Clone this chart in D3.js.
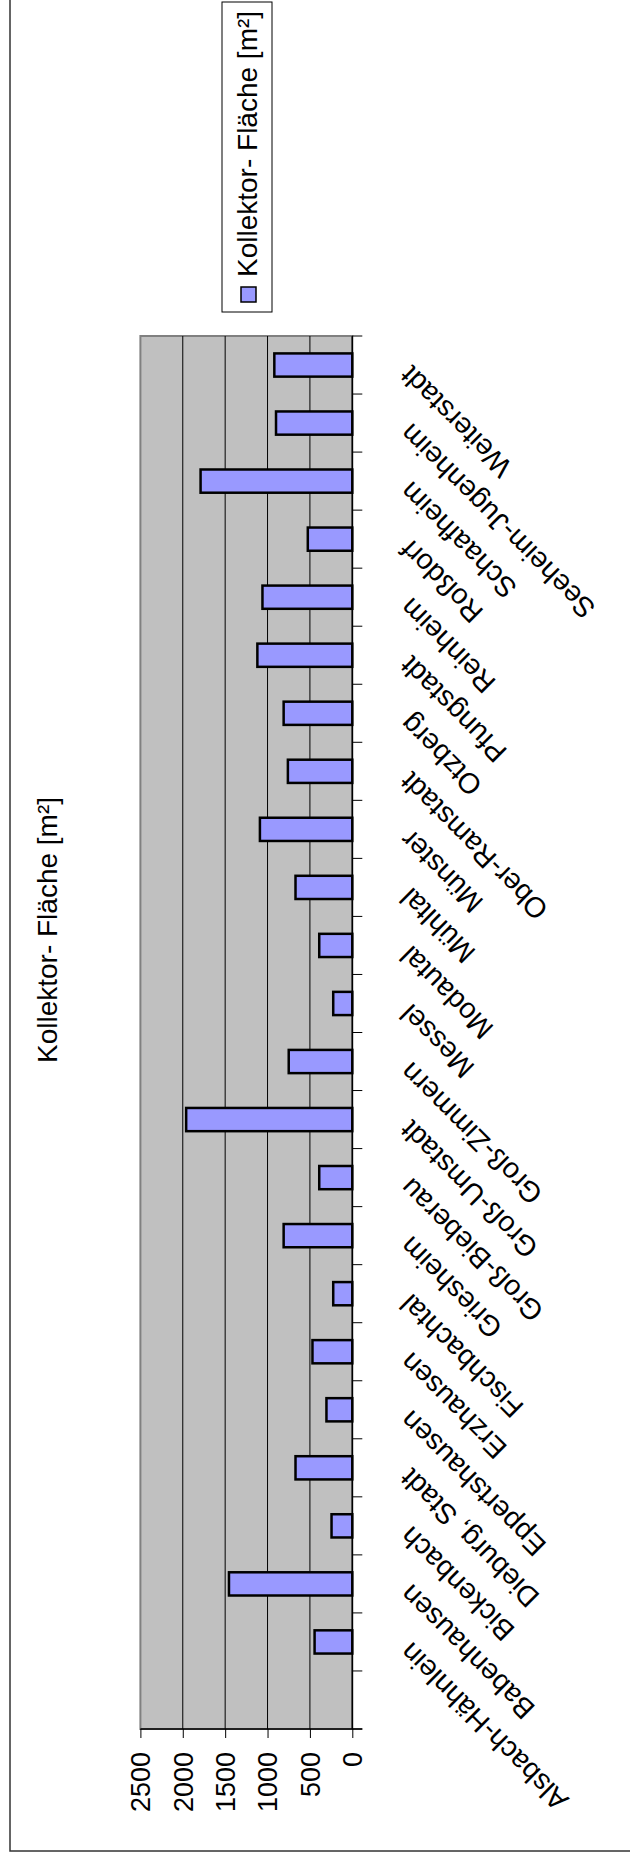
<!DOCTYPE html>
<html>
<head>
<meta charset="utf-8">
<script src="https://cdn.jsdelivr.net/npm/d3@7"></script>
<style>
  html, body { margin: 0; padding: 0; background: #ffffff; }
  svg { display: block; }
  text { font-family: "Liberation Sans", Arial, sans-serif; fill: #000; }
</style>
</head>
<body>
<svg id="chart" width="630" height="1861"></svg>
<script>
// Collector area per municipality (m²); first slot is an empty category
const categories = [
  "", "Alsbach-Hähnlein", "Babenhausen", "Bickenbach", "Dieburg, Stadt",
  "Eppertshausen", "Erzhausen", "Fischbachtal", "Griesheim", "Groß-Bieberau",
  "Groß-Umstadt", "Groß-Zimmern", "Messel", "Modautal", "Mühltal", "Münster",
  "Ober-Ramstadt", "Otzberg", "Pfungstadt", "Reinheim", "Roßdorf",
  "Schaafheim", "Seeheim-Jugenheim", "Weiterstadt"
];
const values = [
  null, 445, 1455, 245, 670,
  305, 470, 225, 810, 390,
  1960, 750, 225, 390, 670, 1090,
  760, 810, 1120, 1060, 525,
  1790, 900, 920
];
const valueTicks = [0, 500, 1000, 1500, 2000, 2500];
const titleText = "Kollektor- Fläche [m²]";
const seriesName = "Kollektor- Fläche [m²]";

const svg = d3.select("#chart");
const FONT = 27;

// The chart is laid out turned on its side: values run right-to-left,
// categories run bottom-to-top.
const plot = { left: 140.4, right: 352.3, top: 336, bottom: 1729 };

const x = d3.scaleLinear().domain([0, 2500]).range([plot.right, plot.left]);
const y = d3.scaleBand().domain(d3.range(categories.length))
  .range([plot.bottom, plot.top]).paddingInner(0.6).paddingOuter(0.3);
const step = y.step();
const slotCenter = i => y(i) + y.bandwidth() / 2;

// Outer chart frame
svg.append("rect")
  .attr("x", 10).attr("y", -10).attr("width", 640).attr("height", 1861)
  .attr("fill", "none").attr("stroke", "#333").attr("stroke-width", 1.5);

// Plot area
svg.append("rect")
  .attr("x", plot.left).attr("y", plot.top)
  .attr("width", plot.right - plot.left).attr("height", plot.bottom - plot.top)
  .attr("fill", "#c0c0c0").attr("stroke", "#808080").attr("stroke-width", 2);

// Gridlines
svg.append("g").selectAll("line")
  .data(valueTicks.filter(v => v > 0 && v < 2500))
  .join("line")
  .attr("x1", d => x(d)).attr("x2", d => x(d))
  .attr("y1", plot.top).attr("y2", plot.bottom)
  .attr("stroke", "#000").attr("stroke-width", 1);

// Bars
svg.append("g").selectAll("rect")
  .data(values.map((v, i) => ({ v, i })).filter(d => d.v != null))
  .join("rect")
  .attr("x", d => x(d.v))
  .attr("y", d => y(d.i))
  .attr("width", d => x(0) - x(d.v))
  .attr("height", y.bandwidth())
  .attr("fill", "#9999ff").attr("stroke", "#000").attr("stroke-width", 2.5);

// Value axis along the bottom edge
const valueAxis = d3.axisBottom(x).tickValues(valueTicks).tickSize(9).tickFormat(d3.format("d"));
const gv = svg.append("g").attr("transform", `translate(0,${plot.bottom})`).call(valueAxis);
gv.select(".domain").attr("stroke", "#000").attr("stroke-width", 1.5)
  .attr("d", `M${plot.left},0H${plot.right + 10}`);
gv.selectAll(".tick line").attr("stroke", "#000").attr("stroke-width", 1);
gv.selectAll(".tick text")
  .attr("font-size", FONT).attr("font-family", "Liberation Sans, Arial, sans-serif")
  .attr("fill", "#000")
  .attr("transform", "translate(0,23) rotate(-90)")
  .attr("x", 0).attr("y", 0).attr("dy", "0.35em")
  .attr("text-anchor", "end");

// Category axis along the zero line
const boundaries = d3.range(categories.length + 1).map(k => plot.bottom - k * step);
const gc = svg.append("g");
gc.append("line")
  .attr("x1", plot.right).attr("x2", plot.right)
  .attr("y1", plot.top).attr("y2", plot.bottom)
  .attr("stroke", "#000").attr("stroke-width", 1.5);
gc.selectAll("line.tick").data(boundaries).join("line")
  .attr("class", "tick")
  .attr("x1", plot.right).attr("x2", plot.right + 10)
  .attr("y1", d => d).attr("y2", d => d)
  .attr("stroke", "#000").attr("stroke-width", 1);
gc.selectAll("text").data(categories.map((c, i) => ({ c, i })).filter(d => d.c !== ""))
  .join("text")
  .attr("transform", d => `translate(405,${slotCenter(d.i) + 6}) rotate(-135)`)
  .attr("text-anchor", "end")
  .attr("dy", "0.35em")
  .attr("font-size", 28.5)
  .text(d => d.c);

// Title
svg.append("text")
  .attr("transform", "translate(57,930) rotate(-90)")
  .attr("text-anchor", "middle")
  .attr("font-size", FONT + 1)
  .text(titleText);

// Legend
const lg = svg.append("g");
lg.append("rect")
  .attr("x", 222).attr("y", 2).attr("width", 50).attr("height", 310)
  .attr("fill", "#fff").attr("stroke", "#000").attr("stroke-width", 1);
lg.append("rect")
  .attr("x", 241).attr("y", 287).attr("width", 15).attr("height", 15)
  .attr("fill", "#9999ff").attr("stroke", "#000").attr("stroke-width", 1.5);
lg.append("text")
  .attr("transform", "translate(257,277) rotate(-90)")
  .attr("text-anchor", "start")
  .attr("font-size", FONT + 1)
  .text(seriesName);
</script>
</body>
</html>
